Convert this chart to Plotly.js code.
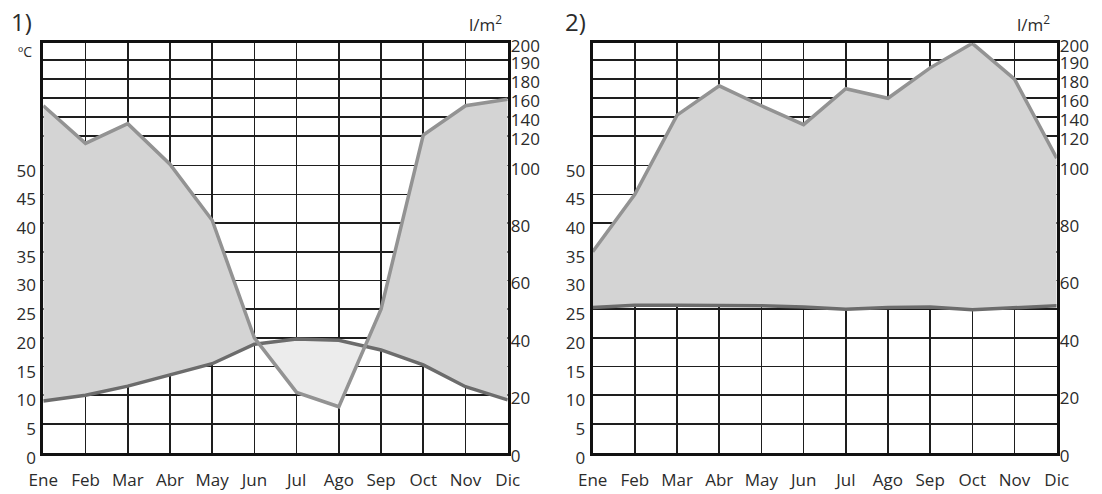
<!DOCTYPE html>
<html>
<head>
<meta charset="utf-8">
<script src="https://cdn.plot.ly/plotly-3.0.1.min.js"></script>
<style>
html,body{margin:0;padding:0;background:#fff;}
#chart{width:1102px;height:494px;}
</style>
</head>
<body>
<div id="chart"></div>
<script>
// ---- data ----
const months = ['Ene','Feb','Mar','Abr','May','Jun','Jul','Ago','Sep','Oct','Nov','Dic'];
const precip1 = [152, 115, 133, 101, 81, 40, 21, 16, 50, 121, 152, 159];   // l/m2
const temp1   = [9.0, 10.0, 11.6, 13.5, 15.5, 18.9, 19.8, 19.6, 17.9, 15.3, 11.5, 9.2]; // ºC
const precip2 = [70, 90, 142, 173, 152, 132, 170, 160, 186, 200, 180, 105];
const temp2   = [25.3, 25.7, 25.7, 25.7, 25.6, 25.4, 25.0, 25.3, 25.4, 24.9, 25.2, 25.6];
const tempTicks = [0,5,10,15,20,25,30,35,40,45,50];
const precipTicks = [0,20,40,60,80,100,120,140,160,180,190,200];

// ---- right-axis (precipitation) scale: piecewise, expressed in temperature units ----
const scaleP = [0, 100, 120, 140, 160, 180, 190, 200];
const scaleY = [0, 50, 55.17, 58.48, 61.74, 65.07, 68.36, 71.32];
function mapP(p){
  for (let i = 1; i < scaleP.length; i++){
    if (p <= scaleP[i]){
      const f = (p - scaleP[i-1]) / (scaleP[i] - scaleP[i-1]);
      return scaleY[i-1] + f * (scaleY[i] - scaleY[i-1]);
    }
  }
  return scaleY[scaleY.length-1];
}
const YMAX = 71.32;

// fill polygons (between precipitation and temperature curves)
function fills(pd, t){
  const xs = [], pa = [], ta = [];
  for (let i = 0; i < months.length; i++){
    xs.push(i); pa.push(pd[i]); ta.push(t[i]);
    if (i < months.length - 1){
      const d0 = pd[i]-t[i], d1 = pd[i+1]-t[i+1];
      if (d0*d1 < 0){
        const f = d0/(d0-d1);
        xs.push(i+f);
        const v = pd[i] + f*(pd[i+1]-pd[i]);
        pa.push(v); ta.push(v);
      }
    }
  }
  const hi = pa.map((v,k)=>Math.max(v, ta[k]));
  const lo = pa.map((v,k)=>Math.min(v, ta[k]));
  return {xs, ta, hi, lo};
}

const FILL_WET = '#d4d4d4', FILL_DRY = '#ececec';
const P_COLOR = '#939393', T_COLOR = '#6c6c6c';

function panelTraces(precip, temp, xa, ya, yp){
  const pd = precip.map(mapP);
  const xi = months.map((m,i)=>i);
  const f = fills(pd, temp);
  const base = {type:'scatter', mode:'lines', line:{width:0}, hoverinfo:'skip', showlegend:false, xaxis:xa, yaxis:ya};
  return [
    Object.assign({}, base, {x:f.xs, y:f.ta}),
    Object.assign({}, base, {x:f.xs, y:f.hi, fill:'tonexty', fillcolor:FILL_WET}),
    Object.assign({}, base, {x:f.xs, y:f.ta}),
    Object.assign({}, base, {x:f.xs, y:f.lo, fill:'tonexty', fillcolor:FILL_DRY}),
    {type:'scatter', mode:'lines', x:xi, y:temp, xaxis:xa, yaxis:ya, showlegend:false,
     line:{color:T_COLOR, width:3.5}, name:'Temperatura'},
    {type:'scatter', mode:'lines', x:xi, y:pd, xaxis:xa, yaxis:yp, showlegend:false,
     line:{color:P_COLOR, width:3.5}, name:'Precipitación'}
  ];
}

const data = [].concat(
  panelTraces(precip1, temp1, 'x', 'y', 'y2'),
  panelTraces(precip2, temp2, 'x2', 'y3', 'y4')
);

const W = 1102, H = 494;
const FONT = {family:'Open Sans, sans-serif', size:17, color:'#2b2b2b'};
const GRID = '#1e1e1e';
const yDom = [(H-452.7)/H, (H-43.3)/H];

function xAxis(dom, anchor){
  return {domain:dom, anchor:anchor, range:[0,11], tickvals:months.map((m,i)=>i), ticktext:months,
    showgrid:true, gridcolor:GRID, gridwidth:1.6, zeroline:false,
    showline:true, linecolor:'#111', linewidth:3, mirror:true, ticks:'',
    tickfont:FONT, ticklabelstandoff:10};
}
function yLeft(anchor){
  return {anchor:anchor, domain:yDom, range:[0,YMAX], tickvals:tempTicks, ticktext:tempTicks.map(String),
    showgrid:true, gridcolor:GRID, gridwidth:1.6, zeroline:false,
    showline:true, linecolor:'#111', linewidth:3, mirror:true, ticks:'',
    tickfont:FONT, ticklabelshift:5, ticklabelstandoff:1};
}
function yRight(anchor, over){
  return {anchor:anchor, overlaying:over, side:'right', range:[0,YMAX],
    tickvals:precipTicks.map(mapP), ticktext:precipTicks.map(String),
    showgrid:true, gridcolor:GRID, gridwidth:1.6, zeroline:false,
    showline:false, ticks:'', tickfont:FONT, ticklabelshift:3, ticklabelstandoff:2};
}

const ann = (txt, px, py, size, xanchor) => ({text:txt, x:px/W, y:(H-py)/H, xref:'paper', yref:'paper',
  showarrow:false, xanchor:xanchor||'center', yanchor:'middle', font:{family:'Open Sans, sans-serif', size:size, color:'#2b2b2b'}});

const layout = {
  width:W, height:H, margin:{l:0,r:0,t:0,b:0},
  paper_bgcolor:'#fff', plot_bgcolor:'#fff', showlegend:false,
  xaxis: xAxis([43.3/W, 507.7/W], 'y'),
  yaxis: yLeft('x'),
  yaxis2: yRight('x','y'),
  xaxis2: xAxis([592.7/W, 1056.7/W], 'y3'),
  yaxis3: yLeft('x2'),
  yaxis4: yRight('x2','y3'),
  annotations:[
    ann('1)', 9, 22, 24, 'left'),
    ann('ºC', 25, 51, 14),
    ann('l/m<sup>2</sup>', 485, 23, 17),
    ann('2)', 563, 22, 24, 'left'),
    ann('l/m<sup>2</sup>', 1033, 23, 17)
  ]
};

Plotly.newPlot('chart', data, layout, {staticPlot:true, displayModeBar:false});
</script>
</body>
</html>
